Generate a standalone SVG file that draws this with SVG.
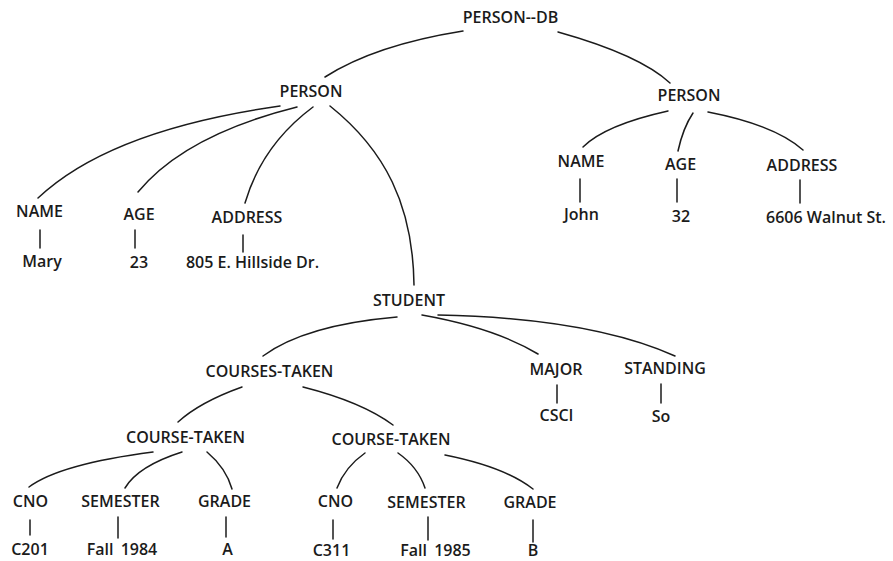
<svg xmlns="http://www.w3.org/2000/svg" width="893" height="561" viewBox="0 0 893 561">
  <style>
    text { font-family: "Open Sans", "Liberation Sans", sans-serif; font-size: 16px; font-weight: 600; fill: #1b1b1b; text-anchor: middle; letter-spacing: 0px; }
    .edge { fill: none; stroke: #1b1b1b; stroke-width: 1.5; stroke-linecap: round; }
  </style>
  <rect width="893" height="561" fill="#ffffff"/>

  <!-- tree connectors -->
  <g id="connectors">
    <path class="edge" d="M463,31 Q375,45 325,77"/>
    <path class="edge" d="M558,32 Q640,55 670,83"/>
    <!-- left PERSON -->
    <path class="edge" d="M280,106 Q110,130 38,198"/>
    <path class="edge" d="M297,107 Q185,135 138,192"/>
    <path class="edge" d="M313,107 Q262,145 245,203"/>
    <path class="edge" d="M330,106 C385,150 413,205 414,285"/>
    <line class="edge" x1="40" y1="230" x2="40" y2="248"/>
    <line class="edge" x1="135" y1="230" x2="135" y2="248"/>
    <line class="edge" x1="243" y1="235" x2="243" y2="252"/>
    <!-- right PERSON -->
    <path class="edge" d="M668,111 Q605,125 583,147"/>
    <path class="edge" d="M693,113 Q683,128 678,151"/>
    <path class="edge" d="M708,112 Q775,125 803,150"/>
    <line class="edge" x1="580" y1="179" x2="580" y2="202"/>
    <line class="edge" x1="677" y1="179" x2="677" y2="202"/>
    <line class="edge" x1="800" y1="180" x2="800" y2="203"/>
    <!-- STUDENT -->
    <path class="edge" d="M397,317 Q305,325 263,356"/>
    <path class="edge" d="M422,315 Q495,328 538,354"/>
    <path class="edge" d="M438,315 Q590,318 675,356"/>
    <line class="edge" x1="557" y1="385" x2="557" y2="403"/>
    <line class="edge" x1="661" y1="384" x2="661" y2="403"/>
    <!-- COURSES-TAKEN -->
    <path class="edge" d="M242,387 Q200,402 178,422"/>
    <path class="edge" d="M303,387 Q362,402 393,425"/>
    <!-- first COURSE-TAKEN -->
    <path class="edge" d="M153,452 Q60,464 29,487"/>
    <path class="edge" d="M182,452 Q138,466 125,488"/>
    <path class="edge" d="M207,452 Q226,468 232,489"/>
    <line class="edge" x1="30" y1="520" x2="30" y2="535"/>
    <line class="edge" x1="118" y1="517" x2="118" y2="538"/>
    <line class="edge" x1="226" y1="517" x2="226" y2="537"/>
    <!-- second COURSE-TAKEN -->
    <path class="edge" d="M365,453 Q345,467 337,488"/>
    <path class="edge" d="M398,453 Q418,467 425,488"/>
    <path class="edge" d="M445,455 Q505,467 533,489"/>
    <line class="edge" x1="333" y1="520" x2="333" y2="539"/>
    <line class="edge" x1="428" y1="517" x2="428" y2="540"/>
    <line class="edge" x1="533" y1="520" x2="533" y2="542"/>
  </g>

  <g id="person-db"><text x="510.5" y="23">PERSON--DB</text></g>

  <g id="person-1"><text x="311" y="97">PERSON</text></g>
  <g id="person-1-name"><text x="39.5" y="217">NAME</text><text x="42" y="267">Mary</text></g>
  <g id="person-1-age"><text x="139" y="220">AGE</text><text x="139" y="268">23</text></g>
  <g id="person-1-address"><text x="247" y="223">ADDRESS</text><text x="252.5" y="268">805 E. Hillside Dr.</text></g>

  <g id="person-2"><text x="689" y="101">PERSON</text></g>
  <g id="person-2-name"><text x="581" y="167">NAME</text><text x="581.5" y="220">John</text></g>
  <g id="person-2-age"><text x="680.5" y="170">AGE</text><text x="681" y="222">32</text></g>
  <g id="person-2-address"><text x="802" y="171">ADDRESS</text><text x="826" y="223">6606 Walnut St.</text></g>

  <g id="student"><text x="409" y="306">STUDENT</text></g>
  <g id="major"><text x="556" y="375">MAJOR</text><text x="556.5" y="421">CSCI</text></g>
  <g id="standing"><text x="665" y="374">STANDING</text><text x="661" y="422">So</text></g>

  <g id="courses-taken"><text x="269.5" y="377">COURSES-TAKEN</text></g>
  <g id="course-taken-1"><text x="185.5" y="443">COURSE-TAKEN</text></g>
  <g id="course-taken-2"><text x="391" y="445">COURSE-TAKEN</text></g>

  <g id="ct1-cno"><text x="30.5" y="507">CNO</text><text x="30" y="555">C201</text></g>
  <g id="ct1-semester"><text x="120.5" y="507">SEMESTER</text><text x="122" y="555">Fall<tspan dx="3"> 1984</tspan></text></g>
  <g id="ct1-grade"><text x="224.5" y="507">GRADE</text><text x="227.5" y="555">A</text></g>

  <g id="ct2-cno"><text x="335.5" y="507">CNO</text><text x="331.5" y="556">C311</text></g>
  <g id="ct2-semester"><text x="426.5" y="508">SEMESTER</text><text x="435.5" y="556">Fall<tspan dx="3"> 1985</tspan></text></g>
  <g id="ct2-grade"><text x="530" y="508">GRADE</text><text x="533" y="556">B</text></g>
</svg>
